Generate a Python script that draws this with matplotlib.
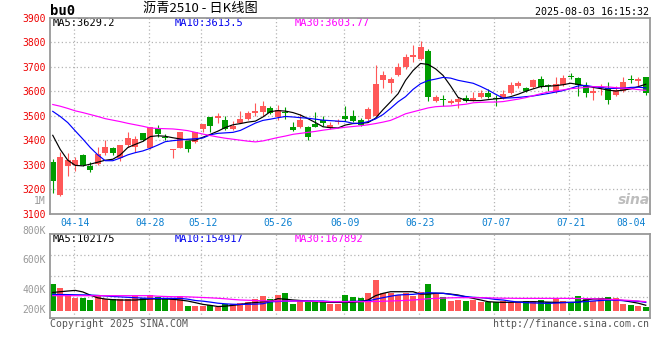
import matplotlib
matplotlib.use("Agg")
import matplotlib.pyplot as plt
import numpy as np

plt.rcParams['font.family'] = ['DejaVu Sans Mono', 'Noto Sans CJK SC']

# daily bars, index 0 = 04-09 ... index 79 = 08-04
opens = [3312, 3177, 3293, 3297, 3340, 3293, 3303, 3347, 3369, 3327,
         3381, 3374, 3430, 3369, 3449, 3412, 3358, 3366, 3395, 3391,
         3445, 3494, 3491, 3483, 3445, 3469, 3486, 3513, 3516, 3531,
         3494, 3517, 3456, 3453, 3456, 3467, 3483, 3449, 3476, 3497,
         3499, 3483, 3486, 3499, 3646, 3635, 3667, 3698, 3739, 3733,
         3765, 3562, 3567, 3551, 3558, 3571, 3565, 3578, 3595, 3573,
         3571, 3592, 3623, 3615, 3619, 3650, 3626, 3599, 3626, 3662,
         3653, 3622, 3592, 3612, 3612, 3585, 3603, 3652, 3642, 3657]
highs = [3325, 3351, 3347, 3333, 3343, 3309, 3374, 3399, 3374, 3381,
         3433, 3419, 3430, 3453, 3461, 3425, 3363, 3434, 3395, 3433,
         3465, 3494, 3510, 3497, 3479, 3521, 3521, 3554, 3562, 3540,
         3544, 3535, 3476, 3506, 3459, 3514, 3499, 3476, 3488, 3540,
         3524, 3490, 3535, 3707, 3684, 3657, 3717, 3752, 3789, 3805,
         3773, 3585, 3585, 3567, 3578, 3584, 3599, 3605, 3608, 3585,
         3605, 3639, 3642, 3619, 3649, 3663, 3630, 3657, 3667, 3676,
         3657, 3639, 3622, 3630, 3639, 3622, 3657, 3667, 3657, 3660]
lows = [3184, 3170, 3252, 3272, 3293, 3269, 3299, 3340, 3340, 3316,
        3374, 3350, 3395, 3365, 3412, 3401, 3327, 3366, 3350, 3388,
        3435, 3435, 3472, 3442, 3442, 3469, 3483, 3497, 3497, 3507,
        3483, 3486, 3438, 3449, 3399, 3452, 3459, 3445, 3465, 3480,
        3476, 3458, 3476, 3497, 3612, 3592, 3663, 3690, 3721, 3728,
        3562, 3558, 3540, 3548, 3531, 3558, 3562, 3571, 3571, 3540,
        3569, 3589, 3615, 3599, 3615, 3612, 3603, 3595, 3622, 3649,
        3581, 3578, 3565, 3585, 3548, 3581, 3599, 3633, 3622, 3585]
closes = [3231, 3333, 3320, 3320, 3297, 3276, 3344, 3373, 3347, 3381,
          3410, 3405, 3399, 3453, 3426, 3407, 3363, 3434, 3363, 3433,
          3465, 3459, 3497, 3445, 3460, 3486, 3510, 3521, 3540, 3510,
          3524, 3513, 3442, 3483, 3412, 3456, 3469, 3463, 3480, 3486,
          3480, 3461, 3526, 3630, 3667, 3649, 3698, 3741, 3749, 3782,
          3578, 3575, 3563, 3562, 3567, 3562, 3573, 3592, 3575, 3570,
          3588, 3626, 3633, 3601, 3646, 3619, 3623, 3630, 3653, 3660,
          3626, 3595, 3603, 3616, 3565, 3605, 3638, 3646, 3649, 3592]

ma5 = [3420, 3362, 3318, 3297, 3295, 3302, 3310, 3318, 3322, 3340,
       3370, 3383, 3395, 3415, 3418, 3416, 3410, 3405, 3401, 3400,
       3412, 3424, 3437, 3452, 3463, 3468, 3474, 3478, 3495, 3517,
       3521, 3519, 3513, 3503, 3488, 3472, 3455, 3451, 3450, 3462,
       3468, 3469, 3472, 3490, 3525, 3557, 3590, 3645, 3685, 3714,
       3710, 3692, 3665, 3622, 3575, 3563, 3562, 3562, 3566, 3569,
       3572, 3578, 3588, 3600, 3610, 3619, 3621, 3623, 3627, 3633,
       3628, 3622, 3616, 3611, 3605, 3601, 3605, 3610, 3619, 3629]
ma10 = [3518, 3497, 3472, 3438, 3405, 3370, 3340, 3316, 3316, 3327,
        3340, 3349, 3356, 3367, 3380, 3394, 3398, 3401, 3404, 3406,
        3409, 3422, 3428, 3430, 3432, 3440, 3455, 3470, 3481, 3486,
        3492, 3497, 3495, 3492, 3490, 3486, 3482, 3480, 3478, 3476,
        3469, 3469, 3476, 3487, 3505, 3530, 3557, 3578, 3608, 3631,
        3644, 3650, 3657, 3654, 3645, 3639, 3633, 3620, 3605, 3588,
        3572, 3573, 3575, 3578, 3581, 3586, 3591, 3597, 3603, 3612,
        3622, 3624, 3619, 3616, 3612, 3612, 3613, 3616, 3617, 3614]
ma30 = [3546, 3539, 3530, 3520, 3513, 3505, 3497, 3488, 3482, 3476,
        3469, 3463, 3457, 3450, 3448, 3447, 3446, 3443, 3439, 3432,
        3425, 3419, 3413, 3408, 3404, 3400, 3396, 3393, 3397, 3404,
        3411, 3417, 3424, 3428, 3432, 3436, 3441, 3445, 3449, 3453,
        3456, 3459, 3463, 3468, 3474, 3481, 3494, 3508, 3516, 3524,
        3532, 3537, 3539, 3540, 3544, 3547, 3553, 3555, 3556, 3556,
        3558, 3563, 3568, 3574, 3582, 3590, 3597, 3602, 3606, 3611,
        3613, 3616, 3619, 3619, 3618, 3615, 3613, 3611, 3607, 3604]

# volume in thousands
vols = [498, 429, 293, 243, 243, 199, 280, 218, 218, 218,
        218, 280, 243, 293, 261, 218, 218, 274, 87, 87,
        87, 106, 75, 125, 125, 149, 168, 218, 280, 218,
        293, 330, 125, 181, 168, 168, 155, 125, 125, 293,
        261, 230, 324, 572, 324, 324, 293, 324, 280, 354,
        498, 305, 261, 181, 199, 181, 199, 155, 155, 155,
        181, 155, 155, 181, 181, 199, 155, 218, 181, 155,
        280, 218, 181, 230, 261, 230, 125, 106, 87, 75]
vma5 = [340, 354, 367, 379, 350, 290, 240, 218, 205, 199,
        199, 199, 210, 218, 218, 218, 212, 199, 180, 150,
        118, 100, 78, 85, 100, 115, 140, 152, 165, 175,
        225, 215, 200, 190, 180, 170, 160, 155, 155, 155,
        155, 170, 199, 280, 324, 354, 354, 354, 354, 310,
        310, 324, 324, 310, 293, 260, 230, 200, 168, 160,
        155, 158, 162, 165, 168, 165, 160, 155, 155, 155,
        155, 200, 218, 218, 218, 199, 190, 165, 140, 102]
vma10 = [305, 303, 300, 297, 295, 292, 285, 275, 265, 258,
         250, 242, 235, 230, 230, 230, 230, 230, 215, 190,
         178, 160, 140, 128, 120, 118, 120, 123, 130, 165,
         172, 178, 180, 181, 181, 181, 181, 170, 170, 172,
         175, 178, 181, 215, 243, 270, 293, 300, 305, 320,
         336, 330, 324, 305, 280, 265, 250, 243, 230, 210,
         199, 178, 160, 150, 145, 140, 137, 142, 150, 155,
         160, 170, 181, 190, 199, 195, 188, 181, 175, 155]
vma30 = [280, 280, 280, 280, 280, 280, 280, 280, 280, 280,
         280, 280, 280, 280, 270, 265, 261, 261, 258, 252,
         246, 240, 232, 222, 210, 200, 195, 190, 185, 181,
         181, 181, 181, 181, 178, 175, 170, 168, 168, 168,
         168, 168, 168, 172, 176, 181, 186, 192, 199, 210,
         222, 230, 235, 240, 243, 243, 243, 243, 240, 236,
         233, 232, 230, 230, 230, 230, 230, 230, 230, 230,
         228, 225, 222, 218, 212, 205, 198, 190, 180, 168]

date_idx = [3, 13, 20, 30, 39, 49, 59, 69, 79]
date_lbl = ['04-14', '04-28', '05-12', '05-26', '06-09', '06-23', '07-07', '07-21', '08-04']
price_ticks = [3100, 3200, 3300, 3400, 3500, 3600, 3700, 3800, 3900]
vol_lbl = ['800K', '600K', '400K', '200K']

RED, GREEN = '#ff5858', '#009c00'
GRID = dict(color='#b4b4b4', lw=0.9, ls=(0, (1, 2)), zorder=0.5)
W, H = 660, 360

def box(l, t, r, b):
    return [l / W, 1 - b / H, (r - l) / W, (b - t) / H]

def fx(x):
    return x / W

def fy(y):
    return 1 - y / H

fig = plt.figure(figsize=(6.6, 3.6), dpi=100)
ax = fig.add_axes(box(50.5, 18, 649.5, 213.5))
axv = fig.add_axes(box(50.5, 234.3, 649.5, 318.3))

x = np.arange(len(closes))
o, h, l, c = map(np.array, (opens, highs, lows, closes))
cols = np.where(c >= o, RED, GREEN)

# price candles
ax.vlines(x, l, h, colors=cols, lw=0.8, zorder=2)
ax.bar(x, np.maximum(np.abs(c - o), 3), bottom=np.minimum(o, c), width=0.8,
       color=cols, lw=0, zorder=2)
ax.plot(x, ma5, color='black', lw=0.85, zorder=2.2)
ax.plot(x, ma10, color='#0000ff', lw=0.85, zorder=2.2)
ax.plot(x, ma30, color='#ff00ff', lw=0.85, zorder=2.2)

# volume
v = np.array(vols) * 1000
axv.bar(x, v, width=0.8, color=cols, lw=0, zorder=2)
axv.plot(x, np.array(vma5) * 1000, color='black', lw=0.9, zorder=2.2)
axv.plot(x, np.array(vma10) * 1000, color='#0000ff', lw=0.9, zorder=2.2)
axv.plot(x, np.array(vma30) * 1000, color='#ff00ff', lw=0.9, zorder=2.2)

for p in price_ticks[1:-1]:
    ax.axhline(p, **GRID)
for a in [ax, axv]:
    for d in date_idx[:-1]:
        a.axvline(d - 0.2, **GRID)
    a.set_xlim(-0.3, 79.5)
    for s in a.spines.values():
        s.set_color('#999999')
        s.set_linewidth(1.3)
for f in [0.25, 0.5, 0.75]:
    axv.axhline(-141700 + f * 1566600, **GRID)

ax.set_ylim(3100, 3900)
ax.set_yticks(price_ticks)
ax.tick_params(axis='y', length=0, pad=3.5, labelsize=7, labelcolor='#ee0000')
ax.set_xticks(date_idx)
ax.set_xticklabels(date_lbl)
ax.tick_params(axis='x', length=0, pad=3, labelsize=7, labelcolor='#0a7fd0')
ax.get_xticklabels()[-1].set_horizontalalignment('right')

axv.set_ylim(-141700, 1424900)
axv.set_xticks([])
axv.set_yticks([])
for t, yy in zip(vol_lbl, [230.8, 260, 290.3, 310.3]):
    fig.text(fx(46), fy(yy), t, ha='right', va='center', fontsize=7, color='#999999')
fig.text(fx(46), fy(200.5), '1M', ha='right', va='center', fontsize=7, color='#999999')

# legends in the panels
wb = dict(fc='white', ec='none', pad=0.3)
for a, yy, vals in [(ax, 23.3, ['MA5:3629.2', 'MA10:3613.5', 'MA30:3603.77']),
                    (axv, 239, ['MA5:102175', 'MA10:154917', 'MA30:167892'])]:
    for t, xx, cc in zip(vals, [53, 175, 294.5], ['black', '#0000ee', '#ff00ff']):
        a.text(fx(xx), fy(yy), t, transform=fig.transFigure, va='center', fontsize=7.5,
               color=cc, bbox=wb, zorder=2.4)

fig.text(fx(50), fy(11), 'bu0', fontsize=10, fontweight='bold', va='center')
fig.text(fx(200), fy(8.5), '沥青2510 - 日K线图', ha='center', va='center', fontsize=9.5,
         family=['Noto Sans CJK SC', 'DejaVu Sans'])
fig.text(fx(649), fy(12.3), '2025-08-03 16:15:32', ha='right', va='center', fontsize=7.2)
fig.text(fx(50), fy(323.7), 'Copyright 2025 SINA.COM', va='center', fontsize=7.1, color='#555555')
fig.text(fx(649), fy(323.7), 'http://finance.sina.com.cn', ha='right', va='center', fontsize=7.1,
         color='#555555')
fig.text(fx(634), fy(200), 'sina', ha='center', va='center', fontsize=10, style='italic',
         fontweight='bold', color='#bdbdbd', family='DejaVu Sans')

fig.savefig('out.png', dpi=100)
